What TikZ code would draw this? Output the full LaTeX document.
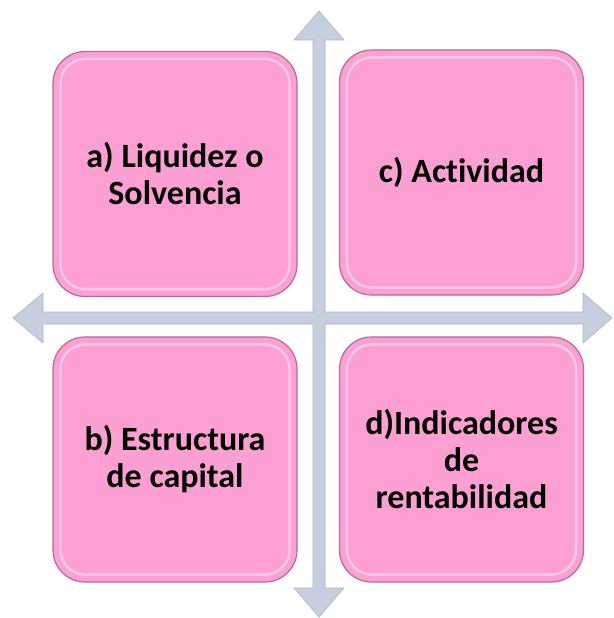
\documentclass[tikz,border=0pt]{standalone}
\usepackage{fontspec}
\setmainfont{Carlito}[Ligatures={NoCommon}]
\definecolor{boxfill}{HTML}{FC9FD3}
\definecolor{boxedge}{HTML}{B86A94}
\definecolor{boxlight}{HTML}{FFD2EC}
\definecolor{arrowfill}{HTML}{C5CFDF}
\definecolor{arrowedge}{HTML}{AAB5C8}
\begin{document}
\begin{tikzpicture}[x=1pt,y=-1pt,
  box/.style={draw=boxedge, line width=1.2pt, fill=boxfill, rounded corners=32pt,
    minimum width=244pt, minimum height=245pt, inner sep=0pt, align=center,
    font=\bfseries\fontsize{34}{37}\selectfont, text=black},
  bevel/.style={draw=boxlight, line width=2.5pt, rounded corners=25pt, opacity=0.8},
  crossarrow/.style={fill=arrowfill, draw=arrowedge, line width=0.6pt}]
\useasboundingbox (0,0) rectangle (613,618);
% cross of arrows
\path[crossarrow] (319,11) -- (344,40) -- (325,40) -- (325,312) -- (583,312) -- (583,293)
  -- (612,318) -- (583,343) -- (583,324) -- (325,324) -- (325,588) -- (344,588)
  -- (319,617) -- (294,588) -- (313,588) -- (313,324) -- (43,324) -- (43,343)
  -- (13,318) -- (43,293) -- (43,312) -- (313,312) -- (313,40) -- (294,40) -- cycle;
% boxes
\node[box] (a) at (175,174) {a) Liquidez o\\Solvencia};
\node[box] (c) at (461.5,172.5) {c) Actividad};
\node[box] (b) at (175,459.5) {b) Estructura\\de capital};
\node[box] (d) at (461.5,459.5) {d)Indicadores\\de\\rentabilidad};
\foreach \n in {a,b,c,d}{
  \draw[bevel] ([shift={(8,8)}]\n.north west) rectangle ([shift={(-8,-8)}]\n.south east);
}
\end{tikzpicture}
\end{document}
